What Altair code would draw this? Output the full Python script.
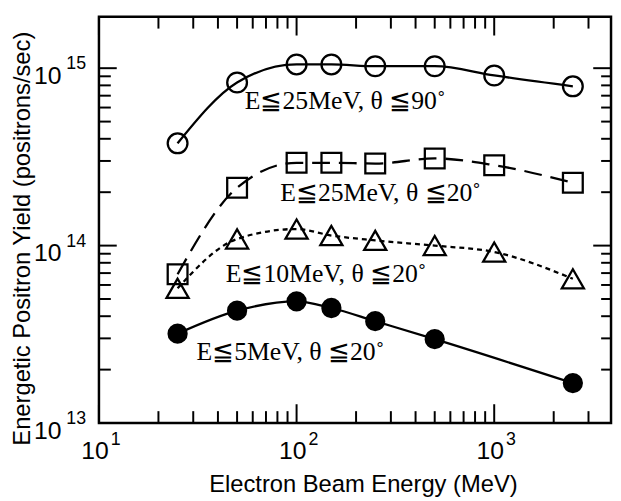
import altair as alt
import pandas as pd

# ---------------- data ----------------
energy = [25, 50, 100, 150, 250, 500, 1000, 2500]
yield_e25_t90 = [3.77e14, 8.3e14, 1.05e15, 1.05e15, 1.026e15, 1.026e15, 9.1e14, 7.9e14]
yield_e25_t20 = [6.9e13, 2.12e14, 2.93e14, 2.93e14, 2.9e14, 3.1e14, 2.84e14, 2.26e14]
yield_e10_t20 = [5.75e13, 1.09e14, 1.24e14, 1.14e14, 1.07e14, 1.0e14, 9.2e13, 6.5e13]
energy_e5 = [25, 50, 100, 150, 250, 500, 2500]
yield_e5_t20 = [3.19e13, 4.3e13, 4.85e13, 4.45e13, 3.75e13, 2.97e13, 1.68e13]

label_text = ["E≦25MeV, θ ≦90˚", "E≦25MeV, θ ≦20˚", "E≦10MeV, θ ≦20˚", "E≦5MeV, θ ≦20˚"]
label_x = [176, 266, 141, 93]
label_y = [6.55e14, 1.98e14, 6.88e13, 2.52e13]

x_major = [10, 100, 1000]
x_minor = [20, 30, 40, 50, 60, 70, 80, 90, 200, 300, 400, 500, 600, 700, 800, 900, 2000, 3000]
y_major = [1e13, 1e14, 1e15]
y_minor = [2e13, 3e13, 4e13, 5e13, 6e13, 7e13, 8e13, 9e13,
           2e14, 3e14, 4e14, 5e14, 6e14, 7e14, 8e14, 9e14]
x_exp = ["1", "2", "3"]
y_exp = ["13", "14", "15"]

# ---------------- layout ----------------
W, H = 518, 411
xscale = alt.Scale(type="log", domain=[10, 3900], nice=False)
yscale = alt.Scale(type="log", domain=[1e13, 1.95e15], nice=False)

x_axis = alt.Axis(title="Electron Beam Energy (MeV)", labels=False, ticks=False, domain=False,
                  grid=False, titleFont="Liberation Sans", titleFontSize=24,
                  titleFontWeight="normal", titleColor="black",
                  titleX=267, titleY=50, titleBaseline="top", titleAlign="center")
y_axis = alt.Axis(title="Energetic Positron Yield (positrons/sec)", labels=False, ticks=False,
                  domain=False, grid=False, titleFont="Liberation Sans", titleFontSize=24,
                  titleFontWeight="normal", titleColor="black",
                  titleX=-65, titleY=224, titleAngle=270, titleBaseline="bottom",
                  titleAlign="center")


def X(f):
    return alt.X(f"{f}:Q", scale=xscale, axis=x_axis)


def Y(f):
    return alt.Y(f"{f}:Q", scale=yscale, axis=y_axis)


def series(xs, ys, shape, filled, size, dash=None):
    df = pd.DataFrame({"e": xs, "y": ys})
    kw = dict(color="black", strokeWidth=2.3, interpolate="monotone")
    if dash is not None:
        kw["strokeDash"] = dash
    line = alt.Chart(df).mark_line(**kw).encode(x=X("e"), y=Y("y"))
    pts = alt.Chart(df).mark_point(shape=shape, filled=filled, size=size, color="black",
                                   strokeWidth=2.3, opacity=1).encode(x=X("e"), y=Y("y"))
    return [line, pts]


layers = []
layers += series(energy, yield_e25_t90, "circle", False, 400)
layers += series(energy, yield_e25_t20, "square", False, 400, [18, 9])
layers += series(energy, yield_e10_t20, "triangle-up", False, 500, [5, 4])
layers += series(energy_e5, yield_e5_t20, "circle", True, 420)

# inward ticks on all four sides
def xticks(vals, L):
    df = pd.DataFrame({"v": vals})
    bot = alt.Chart(df).mark_rule(color="black", strokeWidth=2).encode(
        x=X("v"), y=alt.value(H), y2=alt.value(H - L))
    top = alt.Chart(df).mark_rule(color="black", strokeWidth=2).encode(
        x=X("v"), y=alt.value(0), y2=alt.value(L))
    return [bot, top]


def yticks(vals, L, R):
    df = pd.DataFrame({"v": vals})
    left = alt.Chart(df).mark_rule(color="black", strokeWidth=2).encode(
        y=Y("v"), x=alt.value(0), x2=alt.value(L))
    right = alt.Chart(df).mark_rule(color="black", strokeWidth=2).encode(
        y=Y("v"), x=alt.value(W), x2=alt.value(W - R))
    return [left, right]


layers += xticks(x_major, 19)
layers += xticks(x_minor, 12)
layers += yticks(y_major, 18, 18)
layers += yticks(y_minor, 12, 10)

# tick labels 10^n
xl = pd.DataFrame({"v": x_major, "e": x_exp})
layers.append(alt.Chart(xl).mark_text(align="right", baseline="middle", dx=10, dy=28,
                                      font="Liberation Sans", fontSize=25, color="black")
              .encode(x=X("v"), y=alt.value(H), text=alt.value("10")))
layers.append(alt.Chart(xl).mark_text(align="left", baseline="middle", dx=12, dy=17,
                                      font="Liberation Sans", fontSize=18, color="black")
              .encode(x=X("v"), y=alt.value(H), text="e:N"))
yl = pd.DataFrame({"v": y_major, "e": y_exp})
layers.append(alt.Chart(yl).mark_text(align="right", baseline="middle", dx=-38, dy=8,
                                      font="Liberation Sans", fontSize=25, color="black")
              .encode(y=Y("v"), x=alt.value(0), text=alt.value("10")))
layers.append(alt.Chart(yl).mark_text(align="left", baseline="middle", dx=-33, dy=-4,
                                      font="Liberation Sans", fontSize=18, color="black")
              .encode(y=Y("v"), x=alt.value(0), text="e:N"))

# curve annotations
ann = pd.DataFrame({"x": label_x, "y": label_y, "t": label_text})
layers.append(alt.Chart(ann).mark_text(align="center", baseline="middle",
                                       font="Liberation Serif", fontSize=26, color="black")
              .encode(x=X("x"), y=Y("y"), text="t:N"))

chart = alt.layer(*layers).properties(
    width=W, height=H,
    autosize=alt.AutoSizeParams(type="none"),
    padding={"left": 92, "top": 6, "right": 2, "bottom": 72},
    background="white",
).configure_view(stroke="black", strokeWidth=2.5)

chart.save("out.html", embed_options={"renderer": "svg", "actions": False})
